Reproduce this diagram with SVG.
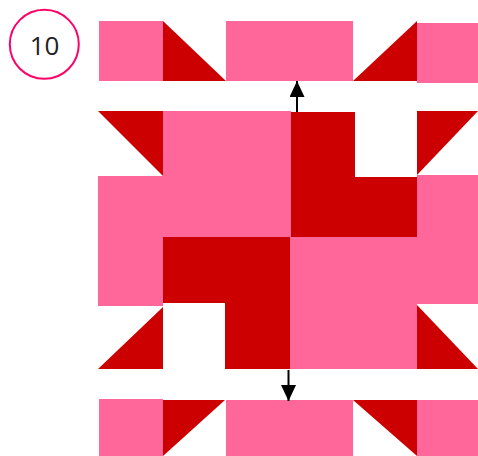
<svg xmlns="http://www.w3.org/2000/svg" width="478" height="456" viewBox="0 0 478 456">
<defs>
<style>
.p{fill:#ff6699}
.r{fill:#cc0000}
.c{stroke:#000;stroke-width:2;fill:none}
.lbl{font-family:"Open Sans","Liberation Sans",sans-serif;font-weight:400;font-size:26px;fill:#222}
</style>
<marker id="ah" viewBox="0 0 16 15" refX="16" refY="7.5" markerWidth="16" markerHeight="15" markerUnits="userSpaceOnUse" orient="auto">
<path d="M0,0 L16,7.5 L0,15 z" fill="#000"/>
</marker>
</defs>
<rect width="478" height="456" fill="#fff"/>
<g id="badge">
<circle cx="44.3" cy="44.3" r="34.5" fill="none" stroke="#ff0066" stroke-width="2"/>
<text class="lbl" x="44.5" y="54.5" text-anchor="middle">10</text>
</g>
<g id="top-row">
<rect class="p" x="99" y="21" width="64" height="60"/>
<polygon class="r" points="163,21 163,81 226,81"/>
<rect class="p" x="226" y="21" width="127" height="60"/>
<polygon class="r" points="353,81 417,21 417,81"/>
<rect class="p" x="417" y="23" width="61" height="60"/>
</g>
<g id="middle-block">
<polygon class="r" points="98,111 163,111 163,176"/>
<rect class="p" x="163" y="111" width="128" height="126"/>
<rect class="p" x="98" y="176" width="65" height="130"/>
<rect class="r" x="291" y="112" width="64" height="125"/>
<rect class="r" x="354" y="177" width="63" height="60"/>
<polygon class="r" points="417,111 478,111 417,175"/>
<rect class="p" x="417" y="175" width="61" height="129"/>
<rect class="r" x="163" y="237" width="127" height="66"/>
<rect class="r" x="225" y="302" width="65" height="67"/>
<rect class="p" x="290" y="237" width="127" height="132"/>
<polygon class="r" points="98,369 163,307 163,369"/>
<polygon class="r" points="417,305 478,369 417,369"/>
</g>
<g id="bottom-row">
<rect class="p" x="99" y="399" width="64" height="57"/>
<polygon class="r" points="163,400 225,400 163,456"/>
<rect class="p" x="226" y="400" width="127" height="56"/>
<polygon class="r" points="353,400 417,400 417,456"/>
<rect class="p" x="417" y="400" width="61" height="56"/>
</g>
<g id="connectors">
<line class="c" x1="297" y1="112" x2="297" y2="81" marker-end="url(#ah)"/>
<line class="c" x1="288.5" y1="370" x2="288.5" y2="401" marker-end="url(#ah)"/>
</g>
</svg>
